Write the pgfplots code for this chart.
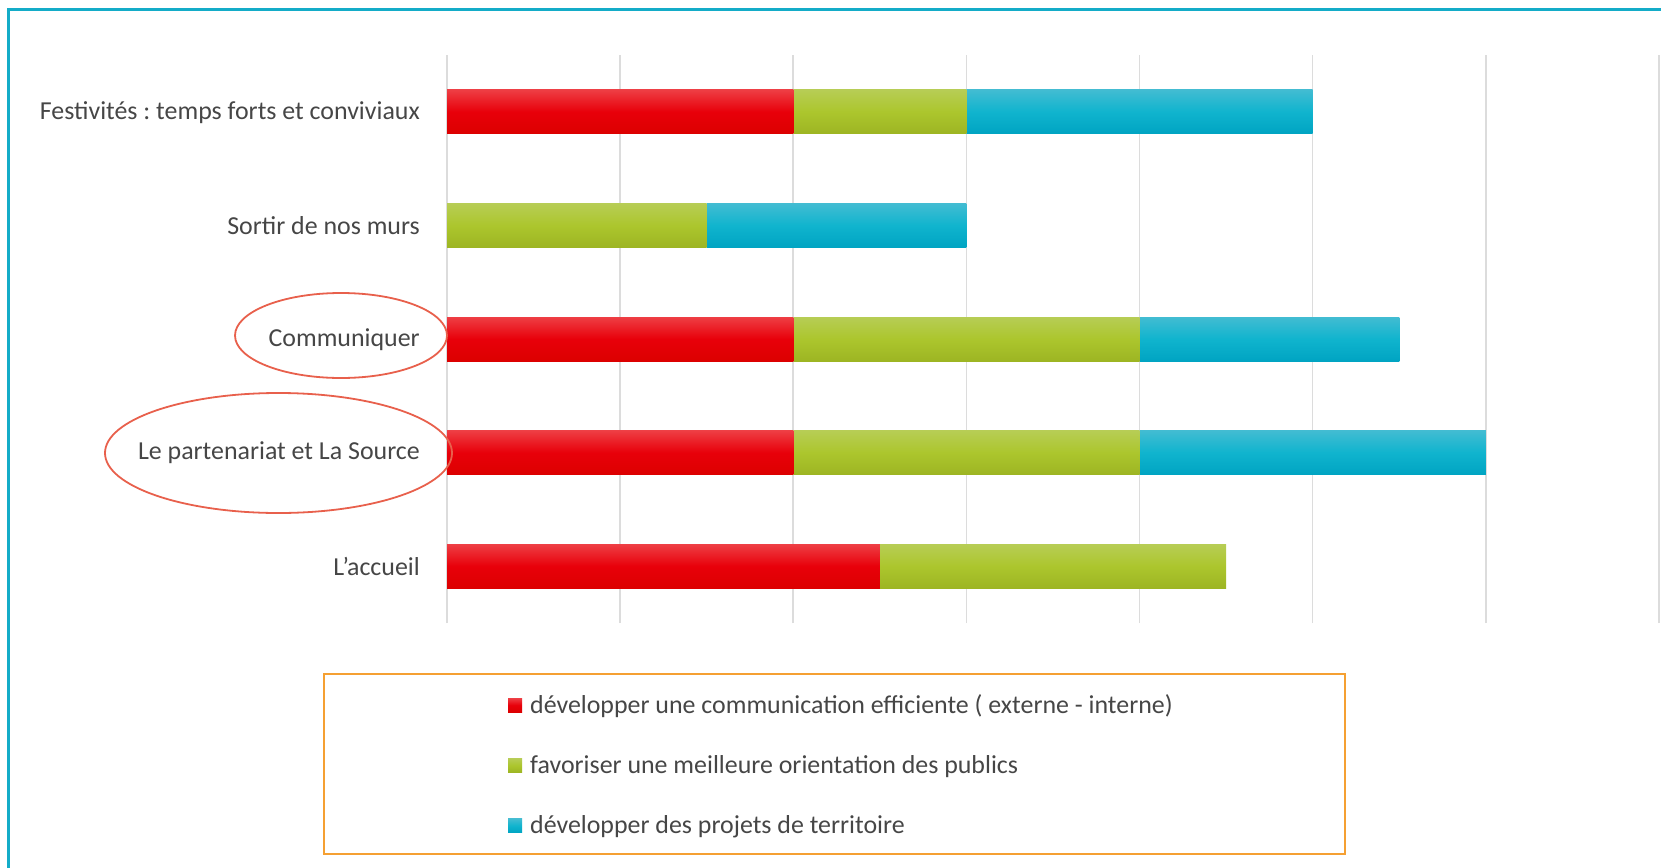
\documentclass[border=0pt]{standalone}
\usepackage{pgfplots}
\pgfplotsset{compat=1.18}
\usepackage{fontspec}
\setmainfont{Carlito}
\frenchspacing
\definecolor{txt}{RGB}{70,70,70}
\definecolor{gridc}{RGB}{220,220,220}
\definecolor{framec}{RGB}{20,172,200}
\definecolor{lgd}{RGB}{245,160,50}
\definecolor{ell}{RGB}{232,96,76}
\definecolor{rT}{RGB}{238,62,68}
\definecolor{rM}{RGB}{232,0,10}
\definecolor{rB}{RGB}{220,0,0}
\definecolor{gT}{RGB}{183,205,85}
\definecolor{gM}{RGB}{172,198,45}
\definecolor{gB}{RGB}{157,181,35}
\definecolor{bT}{RGB}{66,188,210}
\definecolor{bM}{RGB}{16,180,206}
\definecolor{bB}{RGB}{0,164,194}
\pgfplotsset{
  base/.style={at={(447bp,-623bp)}, anchor=south west,
    scale only axis, width=1212bp, height=568bp,
    xbar stacked, bar width=44bp,
    xmin=0, xmax=7, ymin=-0.5, ymax=4.5},
  sR/.style={draw=none, top color=rT, bottom color=rB, middle color=rM},
  sG/.style={draw=none, top color=gT, bottom color=gB, middle color=gM},
  sB/.style={draw=none, top color=bT, bottom color=bB, middle color=bM},
}
\begin{document}
\begin{tikzpicture}[x=1bp,y=1bp]
\useasboundingbox (0,0) rectangle (1661,-867);
\draw[framec, line width=2.5bp] (8.5,-900) -- (8.5,-9.5) -- (1700,-9.5);
% Festivités (with grid, labels, legend)
\begin{axis}[base,
  axis line style={draw=none},
  xtick={0,...,7}, xticklabel=\empty,
  xmajorgrids, grid style={gridc, line width=1.6bp},
  major tick length=0pt,
  ytick={0,...,4},
  yticklabels={L’accueil, Le partenariat et La Source, Communiquer, Sortir de nos murs, Festivités : temps forts et conviviaux},
  yticklabel style={font=\fontsize{26}{31}\selectfont, text=txt, inner sep=0pt, xshift=-27bp, yshift=-0.5bp},
  legend style={draw=none, fill=none, at={(0.0503,-0.132)}, anchor=north west, inner sep=0pt, row sep=39.3bp,
    nodes={inner sep=0pt, text height=14bp, text depth=6bp, font=\fontsize{26}{31}\selectfont, text=txt}},
  legend cell align=left,
  legend image code/.code={\fill[#1] (0bp,-3bp) rectangle (14bp,11bp); \path (22bp,0bp);},
]
\addplot[sR] coordinates {(2,4)};
\addplot[sG] coordinates {(1,4)};
\addplot[sB] coordinates {(2,4)};
\legend{développer une communication efficiente ( externe - interne), favoriser une meilleure orientation des publics, développer des projets de territoire}
\end{axis}
% Sortir de nos murs
\begin{axis}[base, hide axis]
\addplot[sR] coordinates {(0,3)};
\addplot[sG] coordinates {(1.5,3)};
\addplot[sB] coordinates {(1.5,3)};
\end{axis}
% Communiquer
\begin{axis}[base, hide axis]
\addplot[sR] coordinates {(2,2)};
\addplot[sG] coordinates {(2,2)};
\addplot[sB] coordinates {(1.5,2)};
\end{axis}
% Le partenariat et La Source
\begin{axis}[base, hide axis]
\addplot[sR] coordinates {(2,1)};
\addplot[sG] coordinates {(2,1)};
\addplot[sB] coordinates {(2,1)};
\end{axis}
% L'accueil
\begin{axis}[base, hide axis]
\addplot[sR] coordinates {(2.5,0)};
\addplot[sG] coordinates {(2,0)};
\addplot[sB] coordinates {(0,0)};
\end{axis}
\draw[lgd, line width=2bp] (324,-674) rectangle (1345,-854);
\draw[ell, line width=1.8bp] (341,-335.5) ellipse [x radius=106bp, y radius=42.5bp];
\draw[ell, line width=1.8bp] (278.5,-453) ellipse [x radius=173.5bp, y radius=60bp];
\end{tikzpicture}
\end{document}
